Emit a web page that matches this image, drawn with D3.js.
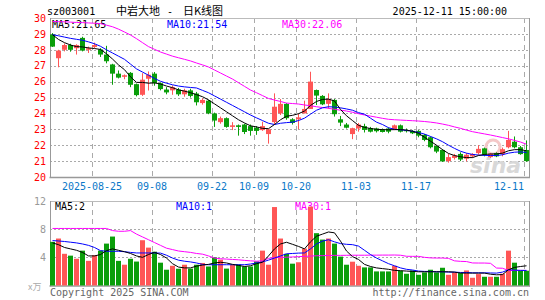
<!DOCTYPE html>
<html>
<head>
<meta charset="utf-8">
<script src="https://cdn.jsdelivr.net/npm/d3@7"></script>
<style>
  body { margin: 0; background: #fff; }
  svg { display: block; font-family: "DejaVu Sans Mono", monospace; }
</style>
</head>
<body>
<svg id="chart" width="545" height="300"></svg>
<script>
// daily K-line data, 80 trading days (2025-08-14 .. 2025-12-11)
const openP = [28.97,27.47,28.0,28.3,28.1,28.75,28.0,28.18,28.02,27.7,
  27.08,26.5,26.3,26.55,25.84,25.17,26.18,26.5,25.9,25.5,
  25.45,25.5,25.2,25.45,25.25,24.65,24.8,24.0,23.45,23.7,
  23.15,23.25,23.3,23.2,23.1,22.95,22.7,23.45,24.0,24.6,
  23.63,23.63,24.0,24.28,25.47,25.1,24.6,24.85,23.63,23.3,
  22.7,23.05,23.2,23.07,23.05,22.98,23.05,23.0,23.25,22.95,
  22.9,22.9,22.65,22.5,21.95,21.7,21.0,21.2,21.45,21.15,
  21.3,21.5,21.8,21.25,21.5,21.45,21.87,22.22,21.87,21.7];
const highP = [29.05,28.0,28.4,28.38,28.35,28.82,28.2,28.45,28.1,28.25,
  27.12,26.7,26.45,26.6,25.88,26.53,26.64,26.6,25.95,25.65,
  25.76,25.6,25.55,25.55,25.35,24.95,24.85,24.05,23.8,23.75,
  23.45,23.3,23.35,23.3,23.2,23.48,23.0,25.26,24.9,24.65,
  23.7,23.97,24.8,26.62,25.5,25.15,25.26,24.9,23.84,23.4,
  23.1,23.4,23.35,23.15,23.1,23.05,23.12,23.3,23.3,23.05,
  22.95,22.95,22.7,22.55,22.0,21.75,21.45,21.45,21.55,21.5,
  21.5,22.0,21.85,21.5,21.55,21.85,22.9,22.55,21.95,22.3];
const lowP = [28.18,26.9,27.9,27.88,27.7,27.9,27.8,28.1,27.55,27.15,
  25.8,26.2,26.15,25.65,25.07,25.1,25.44,25.74,25.45,25.2,
  25.17,25.1,25.05,25.0,24.5,24.55,23.95,23.15,23.35,23.1,
  22.95,22.6,22.7,22.6,22.65,22.9,22.1,23.3,23.9,23.6,
  23.3,23.0,24.0,24.28,24.53,24.52,24.3,23.8,23.2,23.05,
  22.38,22.85,22.8,22.8,22.8,22.8,22.75,22.95,22.8,22.8,
  22.7,22.5,22.25,21.8,21.5,20.95,20.9,21.1,21.0,20.98,
  21.2,21.4,21.3,21.2,21.25,21.3,21.8,21.8,21.4,20.96];
const closeP = [28.2,27.95,28.3,28.0,28.3,27.95,28.1,28.3,27.7,27.28,
  26.5,26.25,26.4,25.8,25.15,26.12,26.43,25.9,25.53,25.32,
  25.65,25.2,25.45,25.1,24.7,24.85,24.0,23.55,23.7,23.15,
  23.25,23.15,22.83,22.9,22.9,23.2,23.0,24.42,24.6,23.7,
  23.4,23.75,24.28,26.0,25.12,24.57,24.9,23.95,23.42,23.1,
  23.07,23.3,22.96,22.85,22.88,22.83,22.85,23.25,22.85,22.88,
  22.75,22.6,22.33,21.87,21.6,20.98,21.25,21.35,21.1,21.4,
  21.45,21.77,21.4,21.45,21.3,21.75,22.33,21.87,21.44,21.0];

// price moving averages
const ma5 = [28.95,28.65,28.45,28.3,28.2,28.18,28.12,28.08,28.02,27.75,
  27.42,27.05,26.75,26.3,25.95,25.95,25.9,25.92,25.85,25.72,
  25.62,25.48,25.4,25.3,25.18,25.05,24.85,24.6,24.35,24.1,
  23.85,23.6,23.4,23.22,23.15,23.06,23.04,23.3,23.6,23.82,
  23.88,23.98,24.15,24.5,24.75,24.88,24.9,24.78,24.25,23.85,
  23.55,23.25,23.12,23.05,23.0,22.98,22.97,22.98,22.98,22.95,
  22.88,22.75,22.5,22.25,22.0,21.72,21.48,21.35,21.27,21.22,
  21.22,21.35,21.42,21.45,21.45,21.5,21.65,21.72,21.72,21.65];
const ma10 = [28.95,28.88,28.8,28.72,28.66,28.6,28.5,28.38,28.22,28.0,
  27.8,27.6,27.4,27.1,26.8,26.6,26.4,26.2,26.02,25.9,
  25.8,25.72,25.67,25.63,25.6,25.45,25.3,25.1,24.9,24.7,
  24.5,24.3,24.1,23.9,23.72,23.55,23.38,23.3,23.38,23.42,
  23.45,23.55,23.7,23.95,24.2,24.35,24.42,24.4,24.35,24.28,
  24.2,24.05,23.95,23.7,23.45,23.3,23.1,23.0,22.97,22.93,
  22.88,22.8,22.7,22.55,22.4,22.22,22.0,21.8,21.62,21.5,
  21.42,21.38,21.36,21.35,21.35,21.4,21.5,21.56,21.58,21.54];
const ma30 = [29.78,29.77,29.76,29.74,29.72,29.71,29.69,29.67,29.65,29.55,
  29.45,29.3,29.12,28.93,28.7,28.45,28.2,28.03,27.86,27.73,
  27.6,27.5,27.4,27.3,27.17,27.05,26.92,26.73,26.54,26.35,
  26.16,25.93,25.7,25.47,25.3,25.12,24.94,24.84,24.75,24.65,
  24.62,24.59,24.53,24.48,24.42,24.37,24.32,24.26,24.2,24.15,
  24.07,23.98,23.9,23.83,23.76,23.69,23.63,23.6,23.58,23.56,
  23.54,23.52,23.49,23.45,23.4,23.33,23.25,23.15,23.06,22.95,
  22.85,22.78,22.71,22.64,22.56,22.48,22.4,22.3,22.2,22.06];

// volume (axis unit as on the chart) and its moving averages
const volume = [6.2,6.67,4.5,4.24,3.8,4.95,3.5,4.3,4.95,5.95,
  6.95,3.5,2.95,3.8,3.4,6.43,5.38,4.8,3.24,2.24,
  2.8,2.38,2.95,2.4,2.95,3.2,2.7,4.0,3.67,2.4,
  2.95,3.0,2.7,2.7,3.43,4.95,2.95,11.14,6.67,4.5,
  3.1,3.3,5.24,11.2,7.43,6.52,6.67,5.95,4.1,2.95,
  3.38,2.8,2.57,2.57,2.0,2.0,2.0,2.8,2.1,1.67,
  2.14,1.52,1.86,2.24,1.86,2.52,1.52,1.86,1.76,2.14,
  1.1,1.62,1.24,1.24,1.24,1.67,4.95,3.24,2.1,2.1];
const volMa5 = [6.05,5.8,5.4,5.2,5.0,4.7,4.2,4.2,4.4,4.95,
  5.2,5.0,4.8,4.55,4.2,4.0,4.4,4.7,4.4,3.9,
  3.1,2.62,2.5,2.5,2.75,2.9,3.0,3.2,3.3,3.2,
  3.0,2.85,2.7,2.8,3.1,3.3,4.2,5.2,5.9,6.14,
  5.85,5.55,5.2,6.2,7.0,7.3,7.6,7.48,6.3,4.9,
  4.1,3.7,3.0,2.7,2.5,2.4,2.3,2.15,2.1,2.05,
  2.0,1.95,1.95,1.95,1.95,1.95,1.95,1.9,1.76,1.76,
  1.76,1.76,1.76,1.6,1.52,1.55,2.24,2.57,2.7,2.8];
const volMa10 = [6.38,6.32,6.25,6.15,6.05,5.9,5.7,5.4,4.95,4.86,
  4.86,4.86,4.8,4.7,4.62,4.62,4.62,4.62,4.6,4.3,
  3.9,3.6,3.45,3.35,3.2,3.0,2.95,2.95,2.95,2.95,
  2.95,2.95,2.95,3.05,3.2,3.35,3.6,3.9,4.2,4.5,
  4.55,4.6,4.62,5.2,5.9,6.3,6.5,6.2,5.95,5.85,
  5.8,5.6,5.0,4.4,3.9,3.5,3.1,2.8,2.5,2.3,
  2.2,2.05,2.0,2.0,1.95,1.95,1.9,1.9,1.85,1.85,
  1.8,1.8,1.8,1.78,1.76,1.9,2.24,2.18,2.15,2.14];
const volMa30 = [8.1,8.1,8.1,8.1,8.1,8.1,8.1,8.1,8.1,8.1,
  7.8,7.7,7.7,7.8,7.3,6.9,6.5,6.1,5.7,5.3,
  5.1,4.9,4.8,4.7,4.55,4.45,4.2,3.9,3.8,3.75,
  3.7,3.65,3.57,3.5,3.45,3.5,3.85,3.95,4.0,4.02,
  4.05,4.1,4.14,4.18,4.22,4.24,4.26,4.28,4.28,4.29,
  4.3,4.3,4.3,4.31,4.31,4.32,4.32,4.33,4.3,4.15,
  4.14,4.14,4.0,3.92,3.9,3.9,3.85,3.5,3.43,3.4,
  3.2,3.19,3.19,3.15,2.48,2.45,2.14,2.14,2.14,2.14];

const dateTickIdx = [7, 17, 27, 34, 41, 51, 61, 79];
const dateTickLabels = ["2025-08-25", "09-08", "09-22", "10-09", "10-20", "11-03", "11-17", "12-11"];
const priceTicks = [20, 21, 22, 23, 24, 25, 26, 27, 28, 29, 30];
const volTicks = [4, 8, 12];

const upColor = "#ff5656";
const downColor = "#0a9e0a";
const gridColor = "#aaa";

const svg = d3.select("#chart");
const n = closeP.length;

// layout of the two panels
const left = 50, right = 530;
const pTop = 18, pBottom = 177;
const vTop = 201, vBottom = 285.5;

const x = d3.scaleBand().domain(d3.range(n)).range([left, right]);
const bodyW = 5;
const y = d3.scaleLinear().domain([20, 30]).range([pBottom, pTop]);
const yv = d3.scaleLinear().domain([0, 12]).range([vBottom, vTop]);

// header
svg.append("text").attr("x", 47).attr("y", 14.5).attr("font-size", 10)
    .text("sz003001");
const cjk = "'Noto Sans CJK SC', sans-serif";
svg.append("text").attr("x", 116).attr("y", 15).attr("font-size", 11)
    .attr("font-family", cjk).text("中岩大地");
svg.append("text").attr("x", 167).attr("y", 14.5).attr("font-size", 10)
    .text("-");
svg.append("text").attr("x", 183).attr("y", 15).attr("font-size", 11)
    .attr("font-family", cjk).text("日K线图");
svg.append("text").attr("x", 507).attr("y", 14.5).attr("font-size", 10)
    .attr("text-anchor", "end").text("2025-12-11 15:00:00");

// grids: horizontal dotted, vertical dashed
svg.append("g").selectAll("line")
    .data(priceTicks.filter(d => d > 20 && d < 30))
    .join("line")
    .attr("x1", left).attr("x2", right)
    .attr("y1", d => Math.round(y(d)) + 0.5).attr("y2", d => Math.round(y(d)) + 0.5)
    .attr("stroke", gridColor).attr("stroke-dasharray", "2,2");

svg.append("g").selectAll("line")
    .data(volTicks.filter(d => d < 12))
    .join("line")
    .attr("x1", left).attr("x2", right)
    .attr("y1", d => Math.round(yv(d)) + 0.5).attr("y2", d => Math.round(yv(d)) + 0.5)
    .attr("stroke", gridColor).attr("stroke-dasharray", "2,2");

const vGrid = svg.append("g");
[[pTop, pBottom], [vTop, vBottom]].forEach(([a, b]) => {
    vGrid.append("g").selectAll("line")
        .data(dateTickIdx)
        .join("line")
        .attr("x1", d => x(d) + 0.5).attr("x2", d => x(d) + 0.5)
        .attr("y1", a).attr("y2", b)
        .attr("stroke", gridColor).attr("stroke-dasharray", "5,4");
});

// panel frames
[[pTop, pBottom], [vTop, vBottom]].forEach(([a, b]) => {
    svg.append("line").attr("x1", left).attr("x2", right).attr("y1", a + 0.5).attr("y2", a + 0.5)
        .attr("stroke", "#bbb");
    svg.append("line").attr("x1", left - 0.5).attr("x2", right).attr("y1", b + 0.5).attr("y2", b + 0.5)
        .attr("stroke", "#999").attr("stroke-width", 1.5);
    svg.append("line").attr("x1", left + 0.5).attr("x2", left + 0.5).attr("y1", a).attr("y2", b + 1)
        .attr("stroke", "#999");
    svg.append("line").attr("x1", right - 0.5).attr("x2", right - 0.5).attr("y1", a).attr("y2", b + 1)
        .attr("stroke", "#999");
});

// price axis labels
svg.append("g")
    .attr("transform", `translate(${left - 4},0)`)
    .call(d3.axisLeft(y).tickValues(priceTicks).tickSize(0).tickPadding(0))
    .call(g => g.select(".domain").remove())
    .selectAll("text")
    .attr("font-size", 10).attr("font-family", "'DejaVu Sans Mono', monospace")
    .attr("fill", "#f00");

// volume axis labels
svg.append("g")
    .attr("transform", `translate(${left - 4},0)`)
    .call(d3.axisLeft(yv).tickValues(volTicks).tickSize(0).tickPadding(0))
    .call(g => g.select(".domain").remove())
    .selectAll("text")
    .attr("font-size", 10).attr("font-family", "'DejaVu Sans Mono', monospace")
    .attr("fill", "#999");

svg.append("text").attr("x", 28).attr("y", 290).attr("font-size", 9)
    .attr("fill", "#aaa").attr("font-family", cjk)
    .text("x万");

// date labels, last one kept inside the frame
svg.append("g").selectAll("text")
    .data(dateTickIdx)
    .join("text")
    .attr("x", d => x(d))
    .attr("y", 190)
    .attr("font-size", 10)
    .attr("text-anchor", (d, i) => i === dateTickIdx.length - 1 ? "end" : "middle")
    .attr("fill", "#0a78c8")
    .text((d, i) => dateTickLabels[i]);

// sina watermark
svg.append("text").attr("x", 470).attr("y", 173).attr("font-size", 22)
    .attr("font-family", "'DejaVu Sans', sans-serif").attr("font-weight", "bold")
    .attr("font-style", "italic").attr("fill", "#d8d8d8").text("sina");
svg.append("circle").attr("cx", 493).attr("cy", 147).attr("r", 7)
    .attr("fill", "none").attr("stroke", "#f4c8c8").attr("stroke-width", 3);

// MA legends (price)
const legend = [["MA5:", ma5, "#000", 52], ["MA10:", ma10, "#00f", 167], ["MA30:", ma30, "#f0f", 282]];
svg.append("g").selectAll("text")
    .data(legend)
    .join("text")
    .attr("x", d => d[3]).attr("y", 27.5)
    .attr("font-size", 10)
    .attr("fill", d => d[2])
    .text(d => d[0] + d[1][n - 1].toFixed(2));

// MA legends (volume)
const volLegend = [["MA5:2", "#000", 55], ["MA10:1", "#00f", 176], ["MA30:1", "#f0f", 295]];
svg.append("g").selectAll("text")
    .data(volLegend)
    .join("text")
    .attr("x", d => d[2]).attr("y", 210)
    .attr("font-size", 10)
    .attr("fill", d => d[1])
    .text(d => d[0]);

// candles
const candles = svg.append("g").selectAll("g")
    .data(d3.range(n))
    .join("g")
    .attr("fill", i => closeP[i] >= openP[i] ? upColor : downColor)
    .attr("stroke", i => closeP[i] >= openP[i] ? upColor : downColor);

candles.append("line")
    .attr("x1", i => x(i) + 2.5).attr("x2", i => x(i) + 2.5)
    .attr("y1", i => y(highP[i])).attr("y2", i => y(lowP[i]));

candles.append("rect")
    .attr("stroke", "none")
    .attr("x", i => x(i))
    .attr("width", bodyW)
    .attr("y", i => y(Math.max(openP[i], closeP[i])))
    .attr("height", i => Math.max(1, Math.abs(y(openP[i]) - y(closeP[i]))));

// volume bars
svg.append("g").selectAll("rect")
    .data(d3.range(n))
    .join("rect")
    .attr("x", i => x(i))
    .attr("width", bodyW)
    .attr("y", i => yv(volume[i]))
    .attr("height", i => vBottom - yv(volume[i]))
    .attr("fill", i => closeP[i] >= openP[i] ? upColor : downColor);

// moving average lines
const priceLine = d3.line().x((d, i) => x(i) + 2.5).y(d => y(d));
const volLine = d3.line().x((d, i) => x(i) + 2.5).y(d => yv(d));

[[ma30, "#f0f"], [ma10, "#00f"], [ma5, "#000"]].forEach(([data, color]) => {
    svg.append("path").datum(data).attr("d", priceLine)
        .attr("fill", "none").attr("stroke", color).attr("stroke-width", 1);
});
[[volMa30, "#f0f"], [volMa10, "#00f"], [volMa5, "#000"]].forEach(([data, color]) => {
    svg.append("path").datum(data).attr("d", volLine)
        .attr("fill", "none").attr("stroke", color).attr("stroke-width", 1);
});

// footer
svg.append("text").attr("x", 50).attr("y", 296).attr("font-size", 10)
    .attr("fill", "#666").text("Copyright 2025 SINA.COM");
svg.append("text").attr("x", 529).attr("y", 296).attr("font-size", 10)
    .attr("text-anchor", "end").attr("fill", "#666").text("http://finance.sina.com.cn");
</script>
</body>
</html>
